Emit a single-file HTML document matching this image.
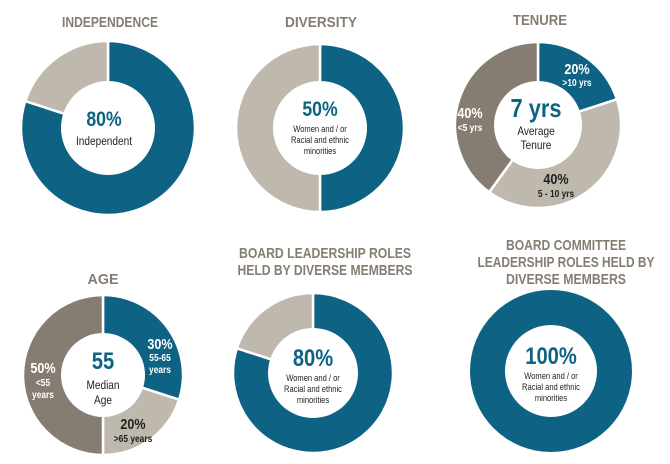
<!DOCTYPE html>
<html><head><meta charset="utf-8"><style>
html,body{margin:0;padding:0;background:#fff}
svg{display:block;font-family:"Liberation Sans",Arial,sans-serif}
.t{font-weight:bold;fill:#857d72;font-size:15px;text-anchor:middle}
.big{font-weight:bold;fill:#0e6283;text-anchor:middle}
.sm{fill:#222;text-anchor:middle}
.lb{font-weight:bold;text-anchor:middle}
</style></head><body>
<svg id="c" width="670" height="464" viewBox="0 0 670 464">
<text class="t" x="110" y="27" textLength="96" lengthAdjust="spacingAndGlyphs">INDEPENDENCE</text>
<text class="t" x="321" y="27" textLength="72" lengthAdjust="spacingAndGlyphs">DIVERSITY</text>
<text class="t" x="540" y="25" textLength="54" lengthAdjust="spacingAndGlyphs">TENURE</text>
<text class="t" x="103" y="284" textLength="31" lengthAdjust="spacingAndGlyphs">AGE</text>
<text class="t" x="325" y="258" textLength="172" lengthAdjust="spacingAndGlyphs">BOARD LEADERSHIP ROLES</text>
<text class="t" x="325" y="275" textLength="175" lengthAdjust="spacingAndGlyphs">HELD BY DIVERSE MEMBERS</text>
<text class="t" x="566" y="250" textLength="120" lengthAdjust="spacingAndGlyphs">BOARD COMMITTEE</text>
<text class="t" x="566" y="267" textLength="177" lengthAdjust="spacingAndGlyphs">LEADERSHIP ROLES HELD BY</text>
<text class="t" x="566" y="284" textLength="120" lengthAdjust="spacingAndGlyphs">DIVERSE MEMBERS</text>
<g id="marks"></g>
<g id="labels"></g>
</svg>
<script>
const independenceValues=[80,20];
const diversityValues=[50,50];
const tenureValues=[20,40,40];
const ageValues=[30,20,50];
const leadershipValues=[80,20];
const committeeValues=[100];
const BLUE="#0e6283",LIGHT="#bfb9ad",DARK="#857d72";
const charts=[
 {name:"independence",vals:independenceValues,cols:[BLUE,LIGHT],cx:108,cy:128,r:87,ir:47},
 {name:"diversity",vals:diversityValues,cols:[BLUE,LIGHT],cx:320,cy:128,r:84,ir:47},
 {name:"tenure",vals:tenureValues,cols:[BLUE,LIGHT,DARK],cx:538,cy:125,r:83,ir:44},
 {name:"age",vals:ageValues,cols:[BLUE,LIGHT,DARK],cx:103,cy:375,r:80,ir:42},
 {name:"leadership",vals:leadershipValues,cols:[BLUE,LIGHT],cx:313,cy:373,r:80,ir:45},
 {name:"committee",vals:committeeValues,cols:[BLUE],cx:551,cy:371,r:81,ir:46}
];
const NS="http://www.w3.org/2000/svg";
const g=document.getElementById("marks");
function pt(cx,cy,r,a){return [cx+r*Math.sin(a),cy-r*Math.cos(a)];}
charts.forEach(c=>{
 const tot=c.vals.reduce((a,b)=>a+b,0);let acc=0;
 c.vals.forEach((v,i)=>{
  const a0=acc/tot*2*Math.PI;acc+=v;const a1=acc/tot*2*Math.PI;
  let el;
  if(v>=tot){el=document.createElementNS(NS,"circle");el.setAttribute("cx",c.cx);el.setAttribute("cy",c.cy);el.setAttribute("r",c.r);}
  else{
   const [x0,y0]=pt(c.cx,c.cy,c.r,a0),[x1,y1]=pt(c.cx,c.cy,c.r,a1);
   const large=(a1-a0)>Math.PI?1:0;
   el=document.createElementNS(NS,"path");
   el.setAttribute("d",`M${c.cx},${c.cy}L${x0},${y0}A${c.r},${c.r} 0 ${large} 1 ${x1},${y1}Z`);
   el.setAttribute("stroke","#fff");el.setAttribute("stroke-width","2.5");
  }
  el.setAttribute("fill",c.cols[i]);
  
  
  g.appendChild(el);
 });
 const h=document.createElementNS(NS,"circle");
 h.setAttribute("cx",c.cx);h.setAttribute("cy",c.cy);h.setAttribute("r",c.ir);h.setAttribute("fill","#fff");
 
 
 g.appendChild(h);
});
const L=document.getElementById("labels");
function txt(x,y,s,cls,size,fill,name){
 const t=document.createElementNS(NS,"text");
 t.setAttribute("x",0);t.setAttribute("y",0);t.setAttribute("class",cls);t.setAttribute("font-size",size);
 t.setAttribute("transform",`translate(${x},${y}) scale(0.84,1)`);
 if(fill)t.setAttribute("fill",fill);t.textContent=s;
 
 
 L.appendChild(t);
}
txt(104,126,"80%","big",21,null,"independence-value");
txt(104,145,"Independent","sm",12,null,"independence-caption");
txt(320,116,"50%","big",21,null,"diversity-value");
txt(320,132,"Women and / or","sm",9,null,"diversity-caption");
txt(320,143,"Racial and ethnic","sm",9,null,"diversity-caption");
txt(320,154,"minorities","sm",9,null,"diversity-caption");
txt(536,117,"7 yrs","big",26,null,"tenure-value");
txt(536,135,"Average","sm",12,null,"tenure-caption");
txt(536,149,"Tenure","sm",12,null,"tenure-caption");
txt(577,74,"20%","lb",15,"#fff","tenure-label-over10");
txt(577,86,">10 yrs","lb",10,"#fff","tenure-label-over10");
txt(470,118,"40%","lb",15,"#fff","tenure-label-under5");
txt(470,131,"<5 yrs","lb",10,"#fff","tenure-label-under5");
txt(556,184,"40%","lb",15,"#222","tenure-label-5to10");
txt(556,197,"5 - 10 yrs","lb",10,"#222","tenure-label-5to10");
txt(103,369,"55","big",24,null,"age-value");
txt(103,389,"Median","sm",12,null,"age-caption");
txt(103,404,"Age","sm",12,null,"age-caption");
txt(160,349,"30%","lb",15,"#fff","age-label-55to65");
txt(160,361,"55-65","lb",10,"#fff","age-label-55to65");
txt(160,373,"years","lb",10,"#fff","age-label-55to65");
txt(133,429,"20%","lb",15,"#222","age-label-over65");
txt(133,442,">65 years","lb",10,"#222","age-label-over65");
txt(43,373,"50%","lb",15,"#fff","age-label-under55");
txt(43,386,"<55","lb",10,"#fff","age-label-under55");
txt(43,398,"years","lb",10,"#fff","age-label-under55");
txt(313,366,"80%","big",24,null,"leadership-value");
txt(313,381,"Women and / or","sm",9,null,"leadership-caption");
txt(313,392,"Racial and ethnic","sm",9,null,"leadership-caption");
txt(313,403,"minorities","sm",9,null,"leadership-caption");
txt(551,364,"100%","big",24,null,"committee-value");
txt(551,379,"Women and / or","sm",9,null,"committee-caption");
txt(551,390,"Racial and ethnic","sm",9,null,"committee-caption");
txt(551,401,"minorities","sm",9,null,"committee-caption");
</script>
</body></html>
